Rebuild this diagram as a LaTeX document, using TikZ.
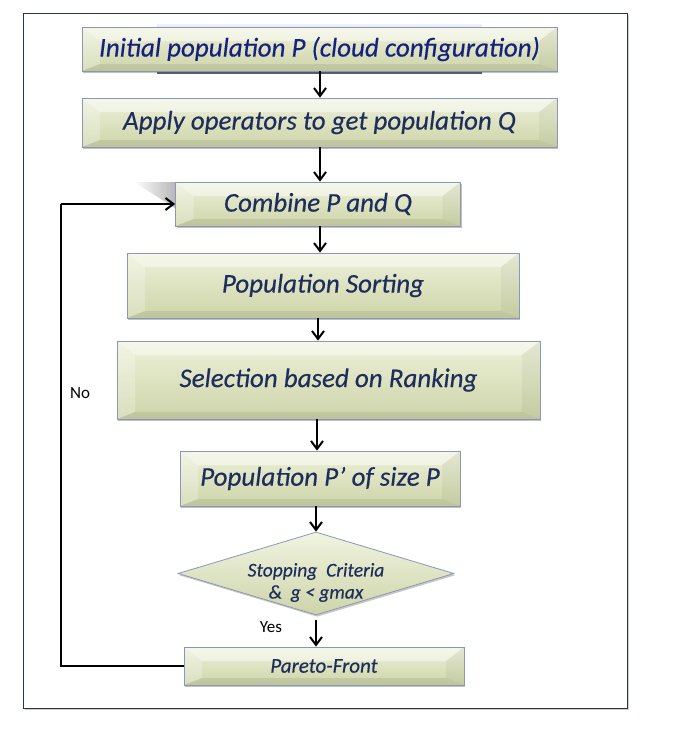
\documentclass[tikz,border=0pt]{standalone}
\usepackage{fontspec}
\setmainfont{Carlito}
\newfontfamily\boxfont{Carlito}[FakeBold=0.35]
\usetikzlibrary{arrows.meta,shapes.geometric,shadows,calc}
\definecolor{boxtop}{HTML}{EEF1DA}
\definecolor{boxbot}{HTML}{CDD4A8}
\definecolor{boxedge}{HTML}{8A97B8}
\definecolor{frameedge}{HTML}{2A3552}
\definecolor{navy}{HTML}{1F2D5C}
\definecolor{blueink}{HTML}{16207E}
\def\bx{18pt}\def\bt{14pt}\def\bb{7pt}
\tikzset{
  bevelbox/.style 2 args={draw=boxedge, line width=0.8pt,
    top color=boxtop, bottom color=boxbot,
    minimum width=#1, minimum height=#2, inner sep=0pt,
    text=navy, font=\boxfont\itshape\fontsize{27}{31}\selectfont,
    drop shadow={shadow xshift=1.2pt, shadow yshift=-1.8pt, opacity=0.35, fill=black!70},
    path picture={
      \coordinate (nw) at (path picture bounding box.north west);
      \coordinate (ne) at (path picture bounding box.north east);
      \coordinate (sw) at (path picture bounding box.south west);
      \coordinate (se) at (path picture bounding box.south east);
      \coordinate (inw) at ([xshift=\bx,yshift=-\bt]nw);
      \coordinate (ine) at ([xshift=-\bx,yshift=-\bt]ne);
      \coordinate (isw) at ([xshift=\bx,yshift=\bb]sw);
      \coordinate (ise) at ([xshift=-\bx,yshift=\bb]se);
      \fill[white,opacity=.45] (nw) -- (ne) -- (ine) -- (inw) -- cycle;
      \fill[white,opacity=.25] (nw) -- (inw) -- (isw) -- (sw) -- cycle;
      \fill[black,opacity=.07] (sw) -- (isw) -- (ise) -- (se) -- cycle;
      \fill[black,opacity=.04] (ne) -- (se) -- (ise) -- (ine) -- cycle;
    }},
  decision/.style={diamond, draw=boxedge, line width=0.8pt, aspect=3.33,
    top color=boxtop!80!white, bottom color=boxbot,
    minimum width=276pt, minimum height=83pt, inner sep=0pt,
    drop shadow={shadow xshift=1.2pt, shadow yshift=-1.8pt, opacity=0.3, fill=black!70}},
  dectext/.style={text=navy, align=center, font=\boxfont\itshape\fontsize{19.5}{22}\selectfont},
  flow/.style={line width=2.1pt, -{Straight Barb[length=8pt,width=12pt,line width=2pt]}},
  loopline/.style={line width=2.6pt},
  plainlabel/.style={font=\fontsize{17}{20}\selectfont, text=black}
}
\begin{document}
\begin{tikzpicture}[x=1pt,y=-1pt]
\useasboundingbox (0,0) rectangle (678,753);
\fill[white] (0,0) rectangle (678,753);
% outer frame
\fill[black!20] (25,15) rectangle (629,710);
\draw[frameedge, line width=1pt, fill=white] (23,13) rectangle (627,708);
% reflection behind first box
\shade[top color=blue!6!white, bottom color=frameedge!80] (157,24) rectangle (482,73.5);
% faint shadow at upper-left of "Combine" box
\shade[left color=white, right color=black!35, opacity=0.8] (134,182) -- (175,182) -- (175,208) -- cycle;

\node[bevelbox={475pt}{44pt}, text=blueink] (init) at (319.5,49) {Initial population P (cloud configuration)};
\node[bevelbox={475pt}{49pt}] (apply) at (319.5,122.5) {Apply operators to get population Q};
\node[bevelbox={285pt}{44pt}] (comb) at (318,204) {Combine P and Q};
\node[bevelbox={392pt}{65pt}] (sort) at (323,285.5) {Population Sorting};
\node[bevelbox={423pt}{78pt}] (sel) at (328.5,380) {Selection based on Ranking};
\node[bevelbox={280pt}{55pt}] (pp) at (320,478.5) {Population P’ of size P};
\node[decision, label={[dectext, yshift=-9pt]center:Stopping\ \ Criteria\\\&\ \ g < gmax}] (stop) at (316,573.5) {};
\node[bevelbox={280pt}{38pt}, font=\boxfont\itshape\fontsize{21}{24}\selectfont] (pf) at (324,666) {Pareto-Front};

\draw[flow] (init.south -| 320,0) -- (apply.north -| 320,0);
\draw[flow] (apply.south -| 320,0) -- (comb.north -| 320,0);
\draw[flow] (comb.south -| 320,0) -- (sort.north -| 320,0);
\draw[flow] (sort.south -| 318,0) -- (sel.north -| 318,0);
\draw[flow] (sel.south -| 317,0) -- (pp.north -| 317,0);
\draw[flow] (pp.south -| 316,0) -- (stop.north);
\draw[flow] (stop.south |- 0,620) -- (pf.north -| stop.south);

\coordinate (loopx) at (61,0);
\draw[loopline] (pf.west) -| (loopx |- comb.west);
\draw[flow] (loopx |- comb.west) -- (comb.west);

\node[plainlabel] (no) at (80,393) {No};
\node[plainlabel] (yes) at (271,627) {Yes};
\end{tikzpicture}
\end{document}
